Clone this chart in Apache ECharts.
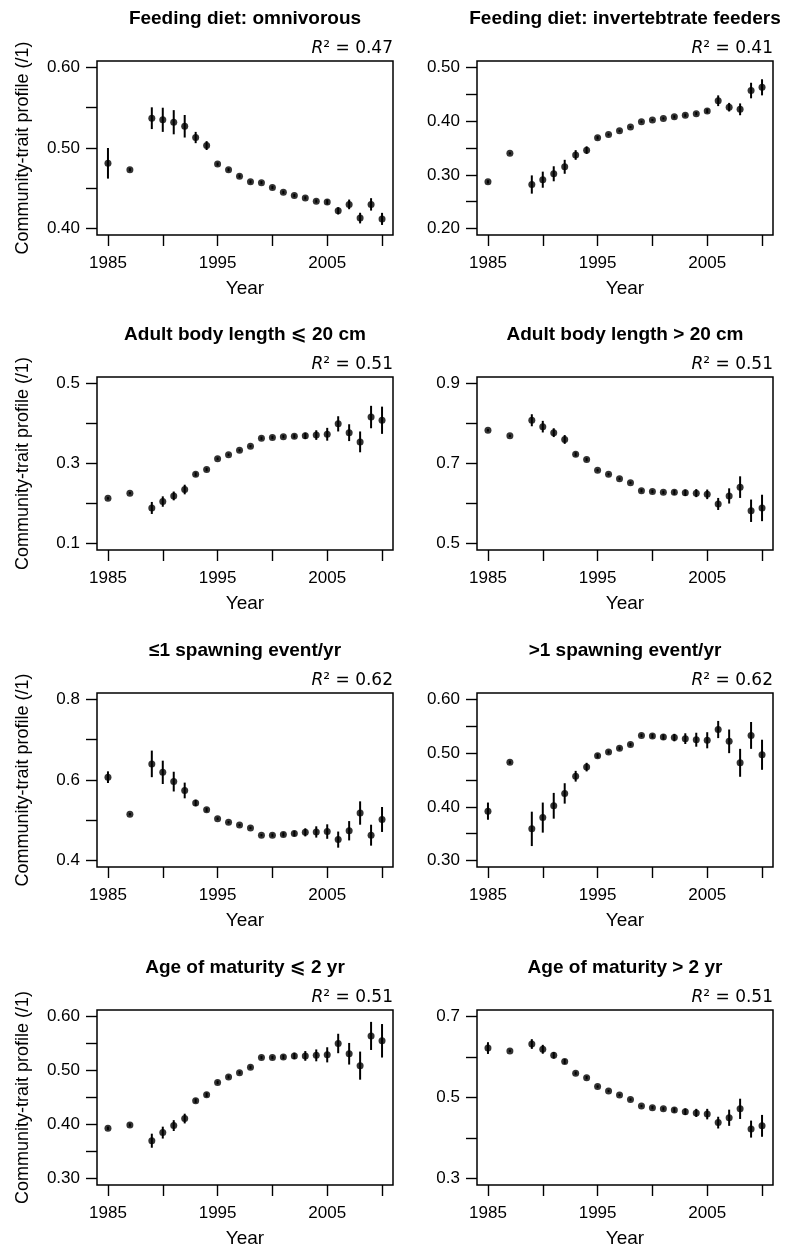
<!DOCTYPE html>
<html>
<head>
<meta charset="utf-8">
<script src="https://cdn.jsdelivr.net/npm/echarts@6/dist/echarts.min.js"></script>
<style>
html,body{margin:0;padding:0;background:#fff;}
#chart{width:790px;height:1249px;}
</style>
</head>
<body>
<div id="chart"></div>
<script>
// ---------- data ----------
const years = [1985, 1987, 1989, 1990, 1991, 1992, 1993, 1994, 1995, 1996, 1997, 1998,
               1999, 2000, 2001, 2002, 2003, 2004, 2005, 2006, 2007, 2008, 2009, 2010];

const omnivorous    = [0.481, 0.473, 0.537, 0.535, 0.532, 0.527, 0.513, 0.503, 0.480, 0.473, 0.465, 0.458, 0.457, 0.451, 0.445, 0.441, 0.438, 0.434, 0.433, 0.422, 0.430, 0.413, 0.430, 0.412];
const omnivorousErr = [0.019, 0.002, 0.0135, 0.015, 0.015, 0.014, 0.007, 0.0055, 0.002, 0.002, 0.002, 0.002, 0.002, 0.002, 0.002, 0.002, 0.002, 0.002, 0.003, 0.0045, 0.006, 0.0066, 0.0077, 0.0075];

const invertebrate    = [0.287, 0.340, 0.282, 0.291, 0.302, 0.315, 0.337, 0.346, 0.369, 0.375, 0.382, 0.389, 0.399, 0.402, 0.405, 0.408, 0.411, 0.414, 0.419, 0.438, 0.426, 0.422, 0.457, 0.463];
const invertebrateErr = [0.003, 0.002, 0.017, 0.015, 0.014, 0.013, 0.009, 0.007, 0.003, 0.002, 0.002, 0.002, 0.002, 0.002, 0.002, 0.003, 0.003, 0.003, 0.004, 0.010, 0.008, 0.011, 0.0145, 0.015];

const bodySmall    = [0.213, 0.226, 0.189, 0.205, 0.219, 0.235, 0.273, 0.285, 0.312, 0.322, 0.333, 0.343, 0.363, 0.365, 0.367, 0.368, 0.369, 0.371, 0.373, 0.399, 0.377, 0.354, 0.416, 0.408];
const bodySmallErr = [0.003, 0.003, 0.015, 0.013, 0.011, 0.012, 0.005, 0.004, 0.003, 0.003, 0.003, 0.003, 0.004, 0.004, 0.004, 0.005, 0.008, 0.012, 0.016, 0.019, 0.021, 0.026, 0.028, 0.034];

const bodyLarge    = [0.783, 0.769, 0.808, 0.792, 0.777, 0.760, 0.723, 0.710, 0.683, 0.673, 0.662, 0.652, 0.632, 0.630, 0.628, 0.628, 0.627, 0.626, 0.623, 0.599, 0.619, 0.641, 0.582, 0.589];
const bodyLargeErr = [0.003, 0.003, 0.015, 0.0145, 0.011, 0.011, 0.005, 0.004, 0.003, 0.003, 0.003, 0.003, 0.004, 0.004, 0.004, 0.006, 0.008, 0.010, 0.012, 0.015, 0.019, 0.027, 0.028, 0.033];

const spawnOne    = [0.607, 0.515, 0.640, 0.619, 0.596, 0.574, 0.543, 0.526, 0.504, 0.495, 0.488, 0.481, 0.463, 0.463, 0.465, 0.467, 0.470, 0.471, 0.472, 0.452, 0.474, 0.518, 0.463, 0.502];
const spawnOneErr = [0.0145, 0.003, 0.033, 0.029, 0.0245, 0.0195, 0.008, 0.005, 0.003, 0.003, 0.003, 0.003, 0.003, 0.004, 0.005, 0.007, 0.010, 0.014, 0.018, 0.020, 0.024, 0.029, 0.026, 0.031];

const spawnMulti    = [0.392, 0.483, 0.359, 0.380, 0.402, 0.425, 0.457, 0.474, 0.495, 0.502, 0.509, 0.516, 0.533, 0.532, 0.530, 0.529, 0.527, 0.525, 0.524, 0.544, 0.522, 0.482, 0.533, 0.497];
const spawnMultiErr = [0.016, 0.003, 0.032, 0.028, 0.024, 0.019, 0.010, 0.008, 0.004, 0.003, 0.003, 0.003, 0.003, 0.004, 0.005, 0.007, 0.010, 0.013, 0.015, 0.016, 0.022, 0.026, 0.025, 0.028];

const maturityEarly    = [0.393, 0.399, 0.370, 0.385, 0.398, 0.411, 0.444, 0.455, 0.478, 0.488, 0.496, 0.506, 0.524, 0.524, 0.525, 0.527, 0.527, 0.528, 0.529, 0.550, 0.531, 0.509, 0.564, 0.555];
const maturityEarlyErr = [0.003, 0.003, 0.013, 0.011, 0.010, 0.009, 0.004, 0.004, 0.003, 0.003, 0.003, 0.003, 0.003, 0.003, 0.004, 0.006, 0.009, 0.011, 0.014, 0.018, 0.020, 0.026, 0.026, 0.031];

const maturityLate    = [0.622, 0.615, 0.632, 0.619, 0.604, 0.589, 0.560, 0.549, 0.527, 0.516, 0.506, 0.495, 0.479, 0.475, 0.472, 0.469, 0.465, 0.462, 0.459, 0.438, 0.450, 0.472, 0.422, 0.430];
const maturityLateErr = [0.0145, 0.003, 0.012, 0.011, 0.008, 0.006, 0.004, 0.004, 0.003, 0.003, 0.003, 0.003, 0.003, 0.004, 0.004, 0.006, 0.008, 0.010, 0.013, 0.0145, 0.020, 0.025, 0.021, 0.027];

const panelTitles = [
  'Feeding diet: omnivorous',
  'Feeding diet: invertebtrate feeders',
  'Adult body length \u2A7D 20 cm',
  'Adult body length > 20 cm',
  '\u22641 spawning event/yr',
  '>1 spawning event/yr',
  'Age of maturity \u2A7D 2 yr',
  'Age of maturity > 2 yr'
];
const rSquared = ['0.47', '0.41', '0.51', '0.51', '0.62', '0.62', '0.51', '0.51'];

const xLim = [1985, 2010];
const xTicks = [1985, 1990, 1995, 2000, 2005, 2010];
const xTickLabels = [1985, 1995, 2005];

const yLims = [[0.40, 0.60], [0.20, 0.50], [0.1, 0.5], [0.5, 0.9], [0.4, 0.8], [0.30, 0.60], [0.30, 0.60], [0.3, 0.7]];
const yTicks = [
  [0.40, 0.45, 0.50, 0.55, 0.60],
  [0.20, 0.25, 0.30, 0.35, 0.40, 0.45, 0.50],
  [0.1, 0.2, 0.3, 0.4, 0.5],
  [0.5, 0.6, 0.7, 0.8, 0.9],
  [0.4, 0.5, 0.6, 0.7, 0.8],
  [0.30, 0.35, 0.40, 0.45, 0.50, 0.55, 0.60],
  [0.30, 0.35, 0.40, 0.45, 0.50, 0.55, 0.60],
  [0.3, 0.4, 0.5, 0.6, 0.7]
];
const yTickLabels = [
  [0.40, 0.50, 0.60],
  [0.20, 0.30, 0.40, 0.50],
  [0.1, 0.3, 0.5],
  [0.5, 0.7, 0.9],
  [0.4, 0.6, 0.8],
  [0.30, 0.40, 0.50, 0.60],
  [0.30, 0.40, 0.50, 0.60],
  [0.3, 0.5, 0.7]
];
const yDecimals = [2, 2, 1, 1, 1, 2, 2, 1];

const seriesValues = [omnivorous, invertebrate, bodySmall, bodyLarge, spawnOne, spawnMulti, maturityEarly, maturityLate];
const seriesErrors = [omnivorousErr, invertebrateErr, bodySmallErr, bodyLargeErr, spawnOneErr, spawnMultiErr, maturityEarlyErr, maturityLateErr];

// ---------- layout ----------
const colLeft = [97, 477];
const boxWidth = 296;
const rowTop = [61, 377, 693, 1010];
const rowHeight = [174, 173, 174, 175];
const FONT = '"Liberation Sans", Arial, sans-serif';
const TITLE_FONT = '"Liberation Sans", "DejaVu Sans", Arial, sans-serif';
const pad = 0.04; // R-style axis padding

const chart = echarts.init(document.getElementById('chart'), null, {renderer: 'canvas'});

const grids = [], xAxes = [], yAxes = [], series = [], graphics = [];

for (let i = 0; i < 8; i++) {
  const col = i % 2, row = Math.floor(i / 2);
  const left = colLeft[col], top = rowTop[row], h = rowHeight[row];
  grids.push({left: left, top: top, width: boxWidth, height: h, show: true,
              borderColor: '#000', borderWidth: 1.5, backgroundColor: 'transparent', containLabel: false});
  const xr = xLim[1] - xLim[0];
  xAxes.push({
    gridIndex: i, type: 'value',
    min: xLim[0] - pad * xr, max: xLim[1] + pad * xr,
    name: 'Year', nameLocation: 'middle', nameGap: 44,
    nameTextStyle: {fontSize: 19, color: '#000', fontFamily: FONT},
    axisLine: {show: false},
    axisTick: {show: true, inside: false, length: 11, customValues: xTicks, lineStyle: {color: '#000', width: 1.4}},
    axisLabel: {show: true, customValues: xTickLabels, margin: 20, fontSize: 17, color: '#000', fontFamily: FONT,
                formatter: v => String(Math.round(v))},
    splitLine: {show: false}
  });
  const [lo, hi] = yLims[i];
  const yr = hi - lo;
  const dec = yDecimals[i];
  yAxes.push({
    gridIndex: i, type: 'value',
    min: lo - pad * yr, max: hi + pad * yr,
    name: col === 0 ? 'Community-trait profile (/1)' : '',
    nameLocation: 'middle', nameGap: 65,
    nameTextStyle: {fontSize: 18, color: '#000', fontFamily: FONT},
    axisLine: {show: false},
    axisTick: {show: true, inside: false, length: 11, customValues: yTicks[i], lineStyle: {color: '#000', width: 1.4}},
    axisLabel: {show: true, customValues: yTickLabels[i], margin: 17, fontSize: 17, color: '#000', fontFamily: FONT,
                formatter: v => Number(v).toFixed(dec)},
    splitLine: {show: false}
  });
  const vals = seriesValues[i], errs = seriesErrors[i];
  series.push({
    type: 'custom', xAxisIndex: i, yAxisIndex: i, silent: true,
    encode: {x: 0, y: 1},
    data: years.map((y, j) => [y, vals[j], errs[j]]),
    renderItem: function (params, api) {
      const x = api.value(0), v = api.value(1), e = api.value(2);
      const p1 = api.coord([x, v - e]);
      const p2 = api.coord([x, v + e]);
      return {type: 'line', shape: {x1: p1[0], y1: p1[1], x2: p2[0], y2: p2[1]},
              style: {stroke: '#000', lineWidth: 2}};
    }
  });
  series.push({
    type: 'scatter', xAxisIndex: i, yAxisIndex: i, silent: true,
    symbol: 'circle', symbolSize: 7,
    itemStyle: {color: '#000'},
    data: years.map((y, j) => [y, vals[j]])
  });
  graphics.push({
    type: 'text', x: left + boxWidth / 2, y: top - 42,
    style: {text: panelTitles[i], fill: '#000', font: 'bold 19px ' + TITLE_FONT,
            textAlign: 'center', textVerticalAlign: 'middle'}
  });
  graphics.push({
    type: 'text', x: left + boxWidth, y: top - 12,
    style: {text: '{i|R}\u00b2 = ' + rSquared[i], fill: '#000',
            font: '17px "DejaVu Sans", sans-serif',
            textAlign: 'right', textVerticalAlign: 'middle',
            rich: {i: {fontStyle: 'italic', fontSize: 17, fontFamily: '"DejaVu Sans", sans-serif', fill: '#000'}}}
  });
}

chart.setOption({
  animation: false,
  backgroundColor: '#fff',
  grid: grids,
  xAxis: xAxes,
  yAxis: yAxes,
  series: series,
  graphic: {elements: graphics}
});
</script>
</body>
</html>
